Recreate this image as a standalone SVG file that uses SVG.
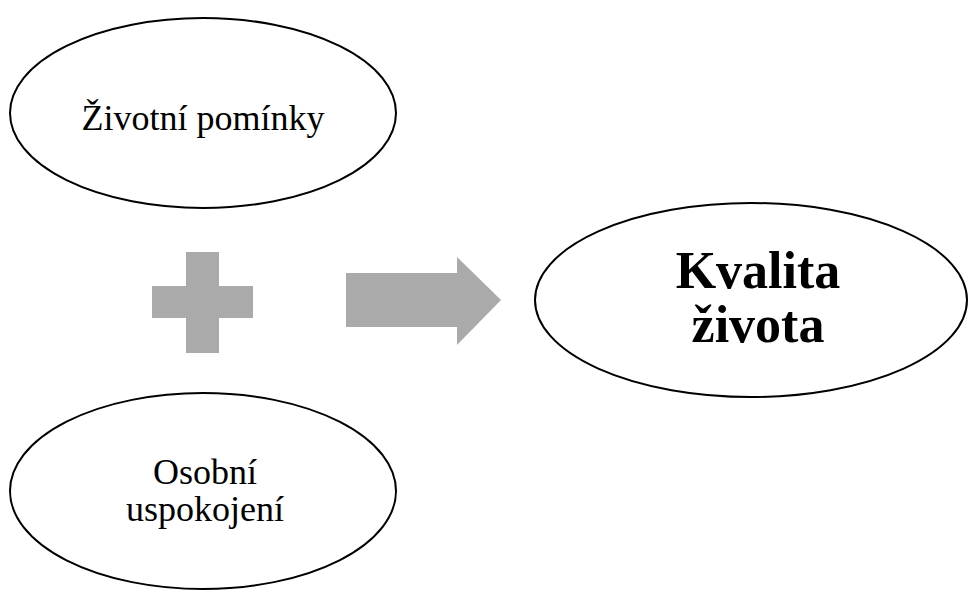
<svg xmlns="http://www.w3.org/2000/svg" width="970" height="594" viewBox="0 0 970 594">
<style>
.node ellipse{fill:#ffffff;stroke:#000000;stroke-width:2}
.t{font-family:"Liberation Serif","Times New Roman",serif;font-size:36px;fill:#000000;text-anchor:middle}
.b{font-family:"Liberation Serif","Times New Roman",serif;font-size:52px;font-weight:bold;fill:#000000;text-anchor:middle}
.sym{fill:#aaaaaa}
</style>
<rect width="970" height="594" fill="#ffffff"/>
<g id="node-zivotni" class="node">
<ellipse cx="203" cy="113" rx="193" ry="95"/>
<text class="t" x="203" y="130">Životní pomínky</text>
</g>
<g id="node-osobni" class="node">
<ellipse cx="203" cy="491" rx="193" ry="98"/>
<text class="t" x="205" y="484">Osobní</text>
<text class="t" x="205" y="521">uspokojení</text>
</g>
<g id="node-kvalita" class="node">
<ellipse cx="751" cy="300" rx="216" ry="97"/>
<text class="b" x="758" y="288">Kvalita</text>
<text class="b" x="758" y="342">života</text>
</g>
<g id="connectors">
<path class="sym" d="M186 252H219V286H253V318H219V353H186V318H152V286H186Z"/>
<path class="sym" d="M346 273H457V257L501 300L457 345V327H346Z"/>
</g>
</svg>
